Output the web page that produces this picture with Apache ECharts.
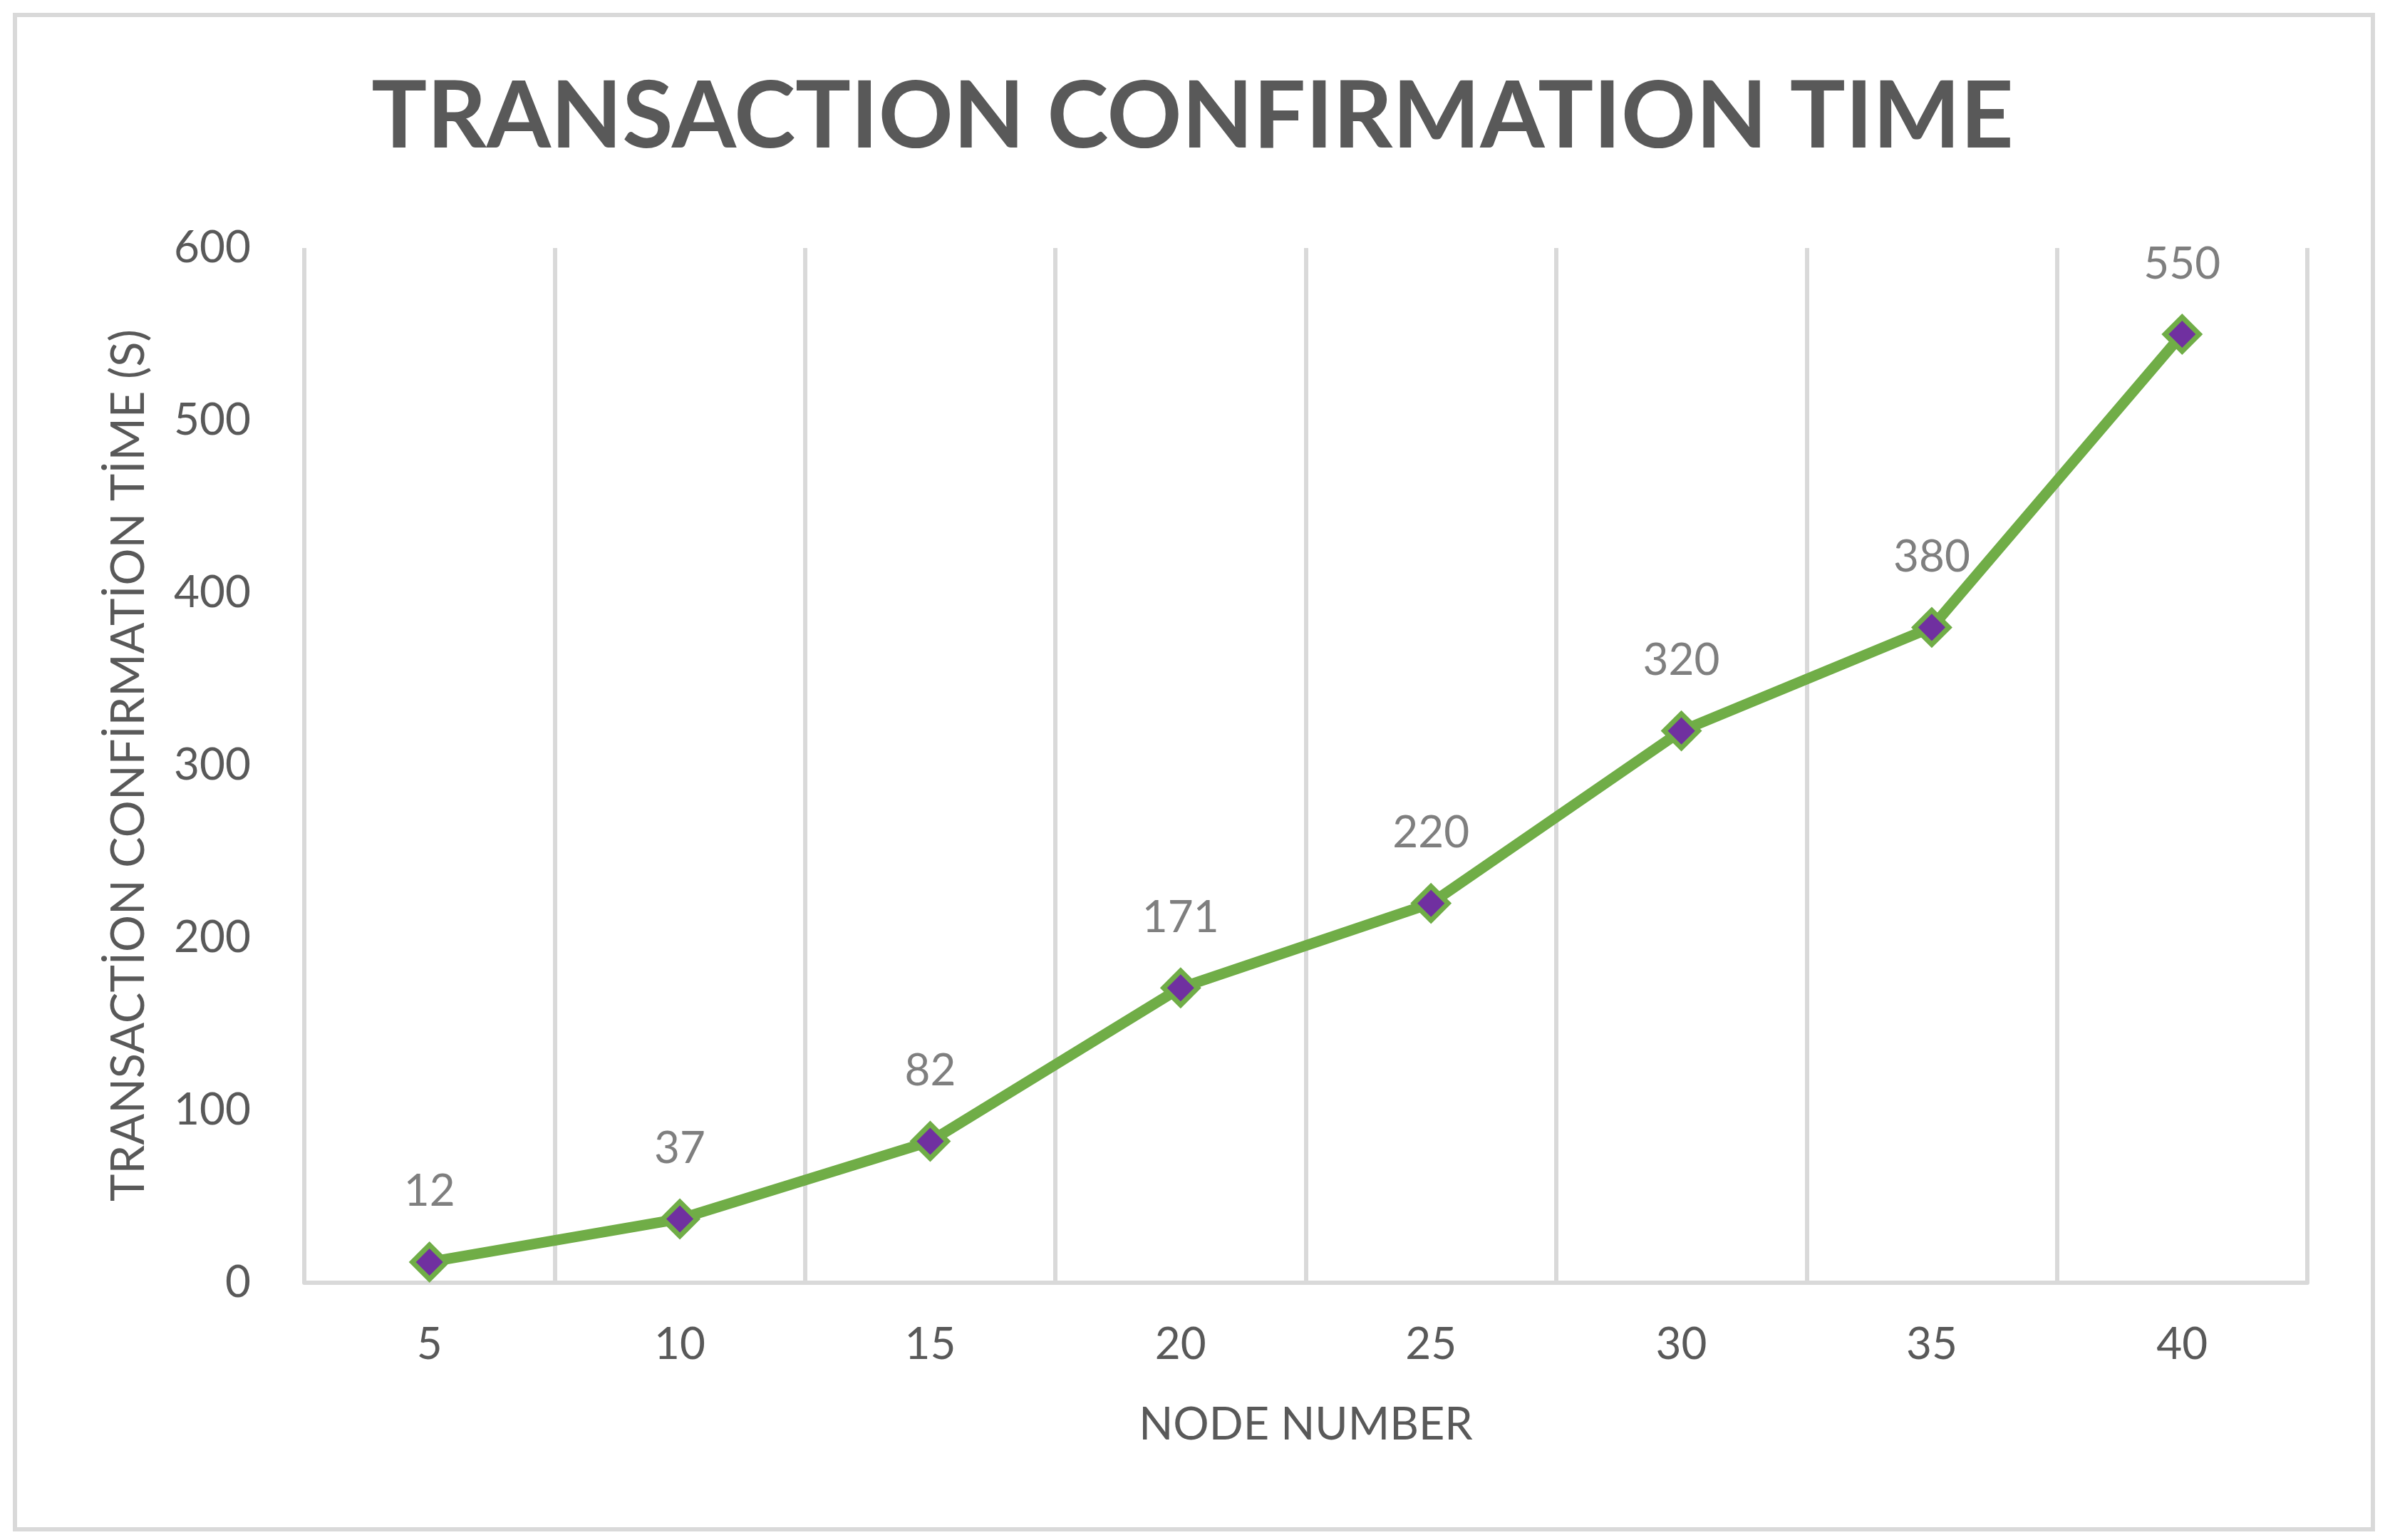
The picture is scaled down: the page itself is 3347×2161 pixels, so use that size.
<!DOCTYPE html>
<html>
<head>
<meta charset="utf-8">
<script src="https://cdn.jsdelivr.net/npm/echarts@6/dist/echarts.min.js"></script>
<style>
html,body{margin:0;padding:0;background:#fff;}
#chart{width:3347px;height:2161px;}
</style>
</head>
<body>
<div id="chart"></div>
<script>
const titleText = 'TRANSACTION CONFIRMATION TIME';
const xAxisName = 'NODE NUMBER';
const yAxisName = 'TRANSACTİON CONFİRMATİON TİME (S)';
const nodeNumbers = ['5', '10', '15', '20', '25', '30', '35', '40'];
const confirmationTimes = [12, 37, 82, 171, 220, 320, 380, 550];
const yTicks = { min: 0, max: 600, interval: 100 };

const FONT = 'Lato';
const chart = echarts.init(document.getElementById('chart'));
chart.setOption({
  backgroundColor: '#ffffff',
  animation: false,
  graphic: [{
    type: 'rect',
    shape: { x: 21, y: 21, width: 3309, height: 2125 },
    style: { fill: 'none', stroke: '#d9d9d9', lineWidth: 6 },
    silent: true
  }],
  title: {
    text: titleText,
    left: 'center',
    top: 95,
    textStyle: { fontFamily: FONT, fontWeight: 'bold', fontSize: 130, color: '#595959' }
  },
  grid: { left: 427, right: 109, top: 348, bottom: 361, containLabel: false },
  xAxis: {
    type: 'category',
    data: nodeNumbers,
    boundaryGap: true,
    name: xAxisName,
    nameLocation: 'middle',
    nameGap: 168,
    nameTextStyle: { fontFamily: FONT, fontSize: 63, color: '#595959' },
    axisLine: { show: true, lineStyle: { color: '#d9d9d9', width: 6 } },
    axisTick: { show: false },
    splitLine: { show: true, lineStyle: { color: '#d9d9d9', width: 6 } },
    axisLabel: { fontFamily: FONT, fontSize: 62, color: '#595959', margin: 56 }
  },
  yAxis: {
    type: 'value',
    min: yTicks.min,
    max: yTicks.max,
    interval: yTicks.interval,
    name: yAxisName,
    nameLocation: 'middle',
    nameGap: 213,
    nameTextStyle: { fontFamily: FONT, fontSize: 65, color: '#595959' },
    axisLine: { show: false },
    axisTick: { show: false },
    splitLine: { show: false },
    axisLabel: { fontFamily: FONT, fontSize: 62, color: '#595959', margin: 75 }
  },
  series: [{
    type: 'line',
    data: confirmationTimes,
    symbol: 'diamond',
    symbolSize: 48,
    lineStyle: { color: '#70ad47', width: 15 },
    itemStyle: { color: '#7030a0', borderColor: '#70ad47', borderWidth: 7 },
    label: {
      show: true,
      position: 'top',
      distance: 40,
      fontFamily: FONT,
      fontSize: 62,
      color: '#7f7f7f'
    },
    z: 3
  }]
});
</script>
</body>
</html>
